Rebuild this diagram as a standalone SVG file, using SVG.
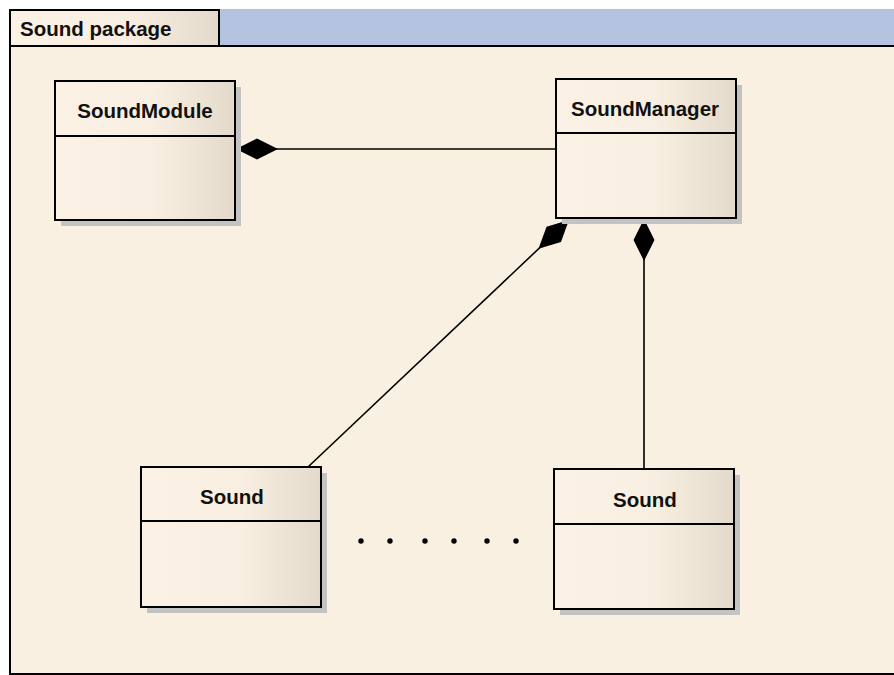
<svg xmlns="http://www.w3.org/2000/svg" width="894" height="675" viewBox="0 0 894 675">
  <style>
    .frame { stroke: #000; stroke-width: 2; }
    .box { fill: url(#classFill); stroke: #000; stroke-width: 2; }
    .shadow { fill: #c3c3c3; }
    .div { stroke: #000; stroke-width: 2; }
    .title { font-family: "Liberation Sans", Arial, sans-serif; font-weight: bold; font-size: 20.5px; fill: #111; text-anchor: middle; }
    .pkg { font-family: "Liberation Sans", Arial, sans-serif; font-weight: bold; font-size: 20.5px; fill: #111; }
    .link { stroke: #000; stroke-width: 1.6; fill: none; }
    .dot { fill: #000; }
  </style>
  <defs>
    <linearGradient id="classFill" x1="0" y1="0" x2="1" y2="0">
      <stop offset="0" stop-color="#fbf2e5"/>
      <stop offset="0.55" stop-color="#f8efe2"/>
      <stop offset="1" stop-color="#e4dacb"/>
    </linearGradient>
    <marker id="composition" viewBox="0 0 42 22" refX="0" refY="11" markerWidth="42" markerHeight="22" markerUnits="userSpaceOnUse" orient="auto">
      <path d="M0,11 L21,0.5 L42,11 L21,21.5 Z" fill="#000"/>
    </marker>
  </defs>

  <!-- package frame -->
  <g id="package">
    <rect x="219" y="9" width="676" height="37" fill="#b4c3e0"/>
    <rect x="10" y="46" width="890" height="628" fill="#faf0e2" class="frame"/>
    <rect x="10" y="10" width="209" height="36" fill="url(#classFill)" class="frame"/>
    <text x="20" y="36" class="pkg">Sound package</text>
  </g>

  <!-- connectors: composition links, diamond at the owning class -->
  <g id="connectors">
    <line x1="236" y1="149" x2="556" y2="149" class="link" marker-start="url(#composition)"/>
    <line x1="569" y1="220" x2="308" y2="467" class="link" marker-start="url(#composition)"/>
    <line x1="644" y1="219" x2="644" y2="469" class="link" marker-start="url(#composition)"/>
  </g>

  <g id="SoundModule">
    <rect x="61" y="87" width="180" height="139" class="shadow"/>
    <rect x="55" y="81" width="180" height="139" class="box"/>
    <line x1="55" y1="136" x2="235" y2="136" class="div"/>
    <text x="145" y="118" class="title">SoundModule</text>
  </g>

  <g id="SoundManager">
    <rect x="562" y="85" width="180" height="139" class="shadow"/>
    <rect x="556" y="79" width="180" height="139" class="box"/>
    <line x1="556" y1="133" x2="736" y2="133" class="div"/>
    <text x="645" y="116" class="title">SoundManager</text>
  </g>

  <g id="Sound1">
    <rect x="147" y="473" width="180" height="140" class="shadow"/>
    <rect x="141" y="467" width="180" height="140" class="box"/>
    <line x1="141" y1="521" x2="321" y2="521" class="div"/>
    <text x="232" y="504" class="title">Sound</text>
  </g>

  <g id="Sound2">
    <rect x="560" y="475" width="180" height="140" class="shadow"/>
    <rect x="554" y="469" width="180" height="140" class="box"/>
    <line x1="554" y1="524" x2="734" y2="524" class="div"/>
    <text x="645" y="507" class="title">Sound</text>
  </g>

  <!-- ellipsis between the Sound instances -->
  <g id="ellipsis">
    <circle cx="361" cy="541" r="2.7" class="dot"/>
    <circle cx="390" cy="541" r="2.7" class="dot"/>
    <circle cx="425" cy="541" r="2.7" class="dot"/>
    <circle cx="454" cy="541" r="2.7" class="dot"/>
    <circle cx="487" cy="541" r="2.7" class="dot"/>
    <circle cx="516" cy="541" r="2.7" class="dot"/>
  </g>
</svg>
